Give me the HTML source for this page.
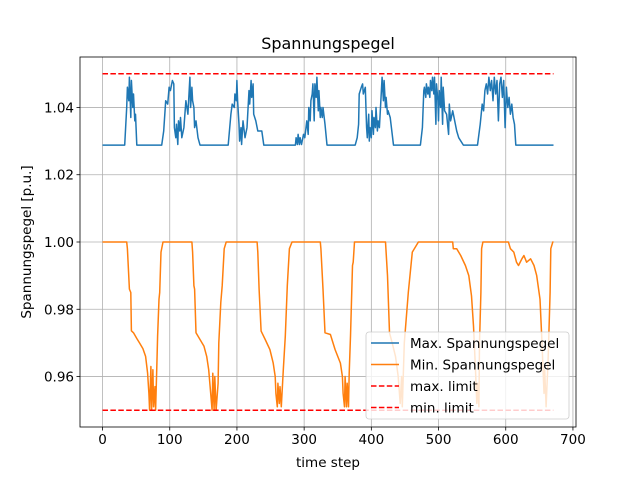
<!DOCTYPE html>
<html><head><meta charset="utf-8"><style>
body{margin:0;background:#fff;}
svg{display:block;font-family:"DejaVu Sans","Liberation Sans",sans-serif;}
</style></head><body>
<svg id="chart" width="640" height="480"></svg>
<script>
const maxT=[0,33,36,37,39,40,42,43,45,46,48,49,51,88,91,94,97,99,101,104,106,107,109,110,112,113,115,116,118,121,124,127,130,131,133,134,136,137,139,142,145,187,191,193,196,197,199,200,201,203,204,206,207,209,212,215,218,219,221,222,224,225,228,231,237,240,287,288,290,291,293,294,296,299,301,304,306,307,309,310,312,313,315,316,318,319,321,322,324,325,327,328,331,334,376,379,381,382,385,387,388,391,393,394,396,397,398,400,401,403,404,406,407,409,410,412,415,416,418,419,421,422,424,425,428,433,473,476,478,479,481,482,484,485,487,488,490,491,493,494,496,497,499,500,501,503,504,506,507,509,512,515,516,518,521,524,527,530,537,558,562,565,567,569,571,573,575,577,579,581,583,585,587,589,591,593,595,597,599,601,603,605,607,609,611,613,615,671];
const maxV=[1.0288,1.0288,1.040,1.046,1.042,1.049,1.037,1.048,1.040,1.044,1.036,1.038,1.0288,1.0288,1.033,1.042,1.041,1.046,1.045,1.048,1.047,1.034,1.031,1.035,1.029,1.036,1.033,1.037,1.031,1.034,1.042,1.038,1.049,1.040,1.046,1.042,1.040,1.034,1.036,1.031,1.0288,1.0288,1.038,1.041,1.040,1.044,1.042,1.048,1.042,1.035,1.030,1.034,1.029,1.036,1.031,1.034,1.045,1.041,1.048,1.043,1.047,1.038,1.036,1.033,1.033,1.0288,1.0288,1.031,1.029,1.032,1.029,1.031,1.029,1.032,1.031,1.036,1.032,1.040,1.036,1.042,1.044,1.047,1.036,1.047,1.043,1.049,1.039,1.045,1.037,1.040,1.037,1.040,1.035,1.0288,1.0288,1.031,1.035,1.044,1.046,1.047,1.044,1.046,1.034,1.031,1.038,1.030,1.034,1.031,1.039,1.032,1.037,1.034,1.040,1.033,1.036,1.034,1.045,1.049,1.042,1.048,1.040,1.043,1.038,1.039,1.037,1.0288,1.0288,1.034,1.045,1.046,1.043,1.047,1.044,1.046,1.043,1.048,1.045,1.049,1.044,1.049,1.035,1.047,1.042,1.036,1.045,1.040,1.049,1.035,1.046,1.039,1.038,1.032,1.041,1.036,1.039,1.036,1.033,1.031,1.0288,1.0288,1.035,1.041,1.039,1.045,1.047,1.044,1.049,1.045,1.048,1.042,1.049,1.044,1.048,1.036,1.047,1.049,1.043,1.048,1.034,1.046,1.040,1.043,1.038,1.041,1.037,1.035,1.0288,1.0288];
const minT=[0,36,37,40,42,43,46,51,55,60,64,67,69,70,72,73,75,76,78,79,81,82,84,85,87,90,133,134,136,137,139,145,151,155,158,161,163,164,166,167,169,172,173,176,178,181,184,230,231,233,236,242,249,254,257,258,260,261,263,264,266,269,272,275,278,282,324,325,328,331,339,346,354,357,358,360,361,363,364,366,367,369,372,373,375,421,424,427,431,436,440,443,445,446,449,455,461,470,521,522,527,533,540,545,549,552,555,557,558,560,561,563,564,566,604,607,612,616,619,624,627,631,637,642,646,651,654,657,658,660,663,666,667,670,671];
const minV=[1.0,1.0,0.998,0.986,0.985,0.9736,0.973,0.9713,0.970,0.9683,0.966,0.961,0.955,0.950,0.963,0.950,0.962,0.951,0.957,0.950,0.965,0.972,0.983,0.985,0.997,1.0,1.0,0.997,0.987,0.986,0.973,0.971,0.969,0.966,0.962,0.955,0.950,0.961,0.950,0.960,0.950,0.958,0.970,0.982,0.987,0.998,1.0,1.0,0.997,0.986,0.9735,0.971,0.968,0.964,0.960,0.955,0.951,0.958,0.952,0.957,0.951,0.962,0.972,0.987,0.998,1.0,1.0,0.998,0.986,0.973,0.9725,0.968,0.964,0.960,0.955,0.951,0.960,0.951,0.958,0.951,0.961,0.972,0.993,0.994,1.0,1.0,0.990,0.973,0.970,0.966,0.960,0.952,0.960,0.951,0.970,0.985,0.997,1.0,1.0,0.998,0.998,0.996,0.993,0.990,0.984,0.975,0.962,0.952,0.958,0.951,0.970,0.985,0.998,1.0,1.0,0.998,0.997,0.994,0.993,0.995,0.996,0.994,0.995,0.993,0.990,0.983,0.970,0.955,0.962,0.951,0.965,0.985,0.998,1.0,1.0];
const limitT=[0,671];
const maxLimit=[1.05,1.05];
const minLimit=[0.95,0.95];
const xTicks=[0,100,200,300,400,500,600,700];
const yTicks=[0.96,0.98,1.00,1.02,1.04];
const yTickLabels=["0.96","0.98","1.00","1.02","1.04"];

const L=80,R=576,T=57,B=427;
const xMin=-33.55,xMax=704.55,yMin=0.945,yMax=1.055;
const sx=v=>L+(v-xMin)/(xMax-xMin)*(R-L);
const sy=v=>B-(v-yMin)/(yMax-yMin)*(B-T);
const svg=document.getElementById('chart');
const NS='http://www.w3.org/2000/svg';
function el(tag,attrs,parent){const e=document.createElementNS(NS,tag);for(const k in attrs)e.setAttribute(k,attrs[k]);(parent||svg).appendChild(e);return e;}
function txt(s,x,y,attrs){const t=el('text',Object.assign({x:x,y:y,'font-size':'13.5',fill:'#000'},attrs||{}));t.textContent=s;return t;}

// grid
xTicks.forEach(v=>{const g=el('line',{x1:sx(v),x2:sx(v),y1:T,y2:B,stroke:'#b0b0b0','stroke-width':0.8});

});
yTicks.forEach(v=>{const g=el('line',{x1:L,x2:R,y1:sy(v),y2:sy(v),stroke:'#b0b0b0','stroke-width':0.8});

});

function line(ts,vs,color,dash,name){
  const d=ts.map((t,i)=>(i?'L':'M')+sx(t).toFixed(1)+','+sy(vs[i]).toFixed(1)).join('');
  const p=el('path',{d:d,fill:'none',stroke:color,'stroke-width':1.5,'stroke-linejoin':'round'});
  if(dash)p.setAttribute('stroke-dasharray',dash);
  
  
}
line(maxT,maxV,'#1f77b4',null,'max-voltage-line');
line(minT,minV,'#ff7f0e',null,'min-voltage-line');
line(limitT,maxLimit,'#ff0000','5.5,2.4','max-limit-line');
line(limitT,minLimit,'#ff0000','5.5,2.4','min-limit-line');

// axes frame
const fr=el('rect',{x:L,y:T,width:R-L,height:B-T,fill:'none',stroke:'#000','stroke-width':0.8});



xTicks.forEach(v=>{el('line',{x1:sx(v),x2:sx(v),y1:B,y2:B+3.5,stroke:'#000','stroke-width':0.8});
const t=txt(String(v),sx(v),B+17,{'text-anchor':'middle'});

});
yTicks.forEach((v,i)=>{el('line',{x1:L-3.5,x2:L,y1:sy(v),y2:sy(v),stroke:'#000','stroke-width':0.8});
const t=txt(yTickLabels[i],L-6,sy(v)+5,{'text-anchor':'end'});

});

const ti=txt('Spannungspegel',328,49,{'text-anchor':'middle','font-size':'16'});


const xl=txt('time step',328,467,{'text-anchor':'middle'});


const yl=txt('Spannungspegel [p.u.]',0,0,{'text-anchor':'middle',transform:'translate(31,242) rotate(-90)'});



// legend
const lg=el('g',{});


el('rect',{x:366,y:332,width:203,height:87,rx:3,fill:'#fff','fill-opacity':0.8,stroke:'#cccccc','stroke-width':0.8},lg);
const items=[['Max. Spannungspegel','#1f77b4',null],['Min. Spannungspegel','#ff7f0e',null],['max. limit','#ff0000','5.5,2.4'],['min. limit','#ff0000','5.5,2.4']];
items.forEach((it,i)=>{const y=343+i*21.5;
const ln=el('line',{x1:371,x2:399,y1:y,y2:y,stroke:it[1],'stroke-width':1.5},lg);
if(it[2])ln.setAttribute('stroke-dasharray',it[2]);
const t=el('text',{x:410,y:y+5,'font-size':'13.5',fill:'#000'},lg);t.textContent=it[0];

});
</script>
</body></html>
